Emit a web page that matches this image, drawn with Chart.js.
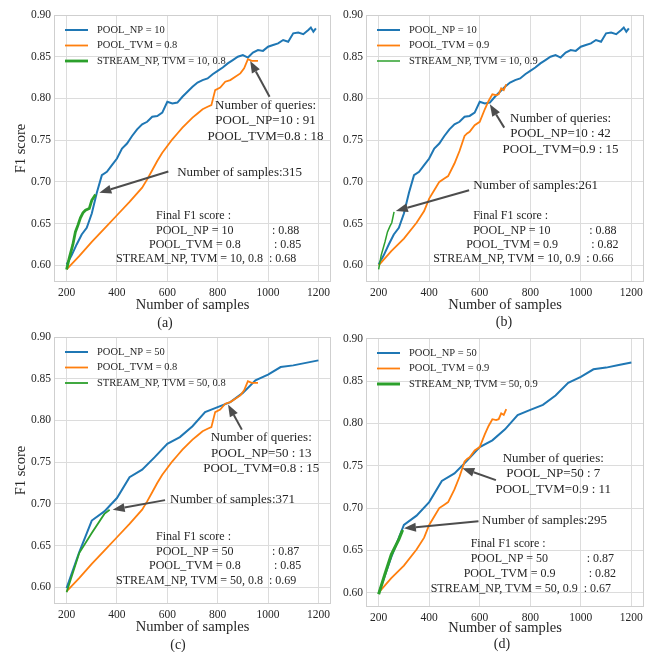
<!DOCTYPE html>
<html lang="en">
<head>
<meta charset="utf-8" />
<title>F1 score vs number of samples</title>
<script src="https://cdn.jsdelivr.net/npm/chart.js@4.4.1/dist/chart.umd.min.js"></script>
<style>
  body { margin: 0; background: #ffffff; }
  #wrap { position: relative; width: 654px; height: 652px; }
  #wrap canvas { position: absolute; left: 0; top: 0; }
</style>
</head>
<body>
<div id="wrap">
  <canvas id="chartA" width="654" height="652"></canvas>
  <canvas id="chartB" width="654" height="652"></canvas>
  <canvas id="chartC" width="654" height="652"></canvas>
  <canvas id="chartD" width="654" height="652"></canvas>
</div>
<script>
// tick labels
const xTicks = [200, 400, 600, 800, 1000, 1200];
const yTicks = [0.60, 0.65, 0.70, 0.75, 0.80, 0.85, 0.90];

// POOL_NP = 10 (panels a, b)
const poolNp10X = [200, 220, 240, 260, 280, 300, 320, 340, 360, 380, 400, 420, 440, 460, 480, 500, 520, 540, 560, 580,
  600, 620, 640, 660, 680, 700, 720, 740, 760, 780, 800, 820, 840, 860, 880, 900, 920, 940, 960, 980,
  1000, 1020, 1040, 1060, 1080, 1100, 1120, 1140, 1160, 1170, 1180, 1190];
const poolNp10Y = [0.601, 0.612, 0.625, 0.637, 0.645, 0.662, 0.687, 0.708, 0.712, 0.720, 0.728, 0.740, 0.746, 0.755, 0.763, 0.769, 0.772, 0.778, 0.779, 0.783,
  0.796, 0.794, 0.795, 0.802, 0.808, 0.814, 0.819, 0.822, 0.824, 0.829, 0.833, 0.837, 0.842, 0.846, 0.850, 0.852, 0.849, 0.855, 0.858, 0.857,
  0.862, 0.864, 0.866, 0.870, 0.868, 0.878, 0.879, 0.877, 0.882, 0.885, 0.880, 0.884];

// POOL_NP = 50 (panels c, d)
const poolNp50X = [200, 250, 300, 350, 400, 450, 500, 550, 600, 650, 700, 750, 800, 850, 900, 950, 1000, 1050, 1100, 1150, 1200];
const poolNp50Y = [0.599, 0.642, 0.680, 0.691, 0.707, 0.732, 0.741, 0.756, 0.772, 0.780, 0.793, 0.810, 0.816, 0.822, 0.833, 0.848, 0.855, 0.864, 0.866, 0.869, 0.872];

// POOL_TVM = 0.8 (panels a, c)
const poolTvm08X = [200, 250, 300, 350, 400, 450, 500, 520, 540, 560, 580, 600, 620, 640, 660, 680, 700, 720, 740, 760,
  775, 790, 810, 830, 850, 870, 890, 905, 920, 935, 960];
const poolTvm08Y = [0.595, 0.611, 0.628, 0.644, 0.660, 0.676, 0.693, 0.703, 0.714, 0.725, 0.735, 0.743, 0.751, 0.758, 0.765, 0.771, 0.777, 0.782, 0.787, 0.790,
  0.792, 0.810, 0.813, 0.820, 0.822, 0.826, 0.830, 0.836, 0.847, 0.845, 0.845];

// POOL_TVM = 0.9 (panels b, d)
const poolTvm09X = [200, 250, 300, 350, 380, 400, 420, 440, 460, 475, 500, 520, 540, 550, 560, 580, 600, 620, 635, 650, 665, 675, 685, 695, 705];
const poolTvm09Y = [0.600, 0.617, 0.632, 0.651, 0.665, 0.680, 0.690, 0.700, 0.704, 0.707, 0.722, 0.737, 0.755, 0.758, 0.760, 0.768, 0.772, 0.787, 0.797, 0.805, 0.804, 0.805, 0.812, 0.810, 0.817];

// STREAM_NP, TVM
const streamAX = [200, 210, 225, 235, 245, 255, 265, 275, 290, 300, 315];
const streamAY = [0.595, 0.608, 0.625, 0.640, 0.648, 0.657, 0.663, 0.666, 0.668, 0.678, 0.685];
const streamBX = [200, 210, 225, 235, 245, 252, 261];
const streamBY = [0.595, 0.612, 0.628, 0.640, 0.647, 0.651, 0.664];
const streamCX = [200, 250, 300, 350, 371];
const streamCY = [0.594, 0.641, 0.665, 0.688, 0.693];
const streamDX = [200, 225, 250, 260, 280, 295];
const streamDY = [0.598, 0.622, 0.645, 0.651, 0.663, 0.674];

const serif = "'Liberation Serif', 'Times New Roman', serif";
const ink = "#262626";
const gridColor = "#dcdcdc";
const blue = "#1f77b4", orange = "#ff7f0e", green = "#2ca02c";

function pts(xs, ys) {
  return xs.map((x, i) => ({ x: x, y: ys[i] }));
}

const panels = [
  {
    id: "chartA", caption: "(a)", captionPos: [165, 323],
    area: { left: 54, top: 15, right: 331, bottom: 282 }, yMin: 0.58, yMax: 0.90, yTitle: true, yAxisW: 42, xAxisH: 32,
    series: [
      { label: "POOL_NP = 10", x: poolNp10X, y: poolNp10Y, color: blue, width: 2 },
      { label: "POOL_TVM = 0.8", x: poolTvm08X, y: poolTvm08Y, color: orange, width: 1.8 },
      { label: "STREAM_NP, TVM = 10, 0.8", x: streamAX, y: streamAY, color: green, width: 2.8 }
    ],
    queries: { at: [990, 0.792], lines: ["Number of queries:", "POOL_NP=10 : 91", "POOL_TVM=0.8 : 18"], from: [1006, 0.802], to: [929, 0.845] },
    samples: { at: [639, 0.711], text: "Number of samples:315", from: [604, 0.7125], to: [330, 0.687] },
    final: { at: [555, 0.659], gap: 14.3, names: ["POOL_NP = 10", "POOL_TVM = 0.8", "STREAM_NP, TVM = 10, 0.8"], scores: [": 0.88", ": 0.85", ": 0.68"] }
  },
  {
    id: "chartB", caption: "(b)", captionPos: [504, 322],
    area: { left: 366, top: 15, right: 644, bottom: 282 }, yMin: 0.58, yMax: 0.90, yTitle: false, yAxisW: 30, xAxisH: 32,
    series: [
      { label: "POOL_NP = 10", x: poolNp10X, y: poolNp10Y, color: blue, width: 2 },
      { label: "POOL_TVM = 0.9", x: poolTvm09X, y: poolTvm09Y, color: orange, width: 1.8 },
      { label: "STREAM_NP, TVM = 10, 0.9", x: streamBX, y: streamBY, color: green, width: 1.5 }
    ],
    queries: { at: [920, 0.776], lines: ["Number of queries:", "POOL_NP=10 : 42", "POOL_TVM=0.9 : 15"], from: [697, 0.765], to: [640, 0.793] },
    samples: { at: [574, 0.695], text: "Number of samples:261", from: [558, 0.690], to: [268, 0.665] },
    final: { at: [574, 0.659], gap: 14.3, names: ["POOL_NP = 10", "POOL_TVM = 0.9", "STREAM_NP, TVM = 10, 0.9"], scores: [": 0.88", ": 0.82", ": 0.66"] }
  },
  {
    id: "chartC", caption: "(c)", captionPos: [178, 645],
    area: { left: 54, top: 337, right: 331, bottom: 604 }, yMin: 0.58, yMax: 0.90, yTitle: true, yAxisW: 42, xAxisH: 32,
    series: [
      { label: "POOL_NP = 50", x: poolNp50X, y: poolNp50Y, color: blue, width: 2 },
      { label: "POOL_TVM = 0.8", x: poolTvm08X, y: poolTvm08Y, color: orange, width: 1.8 },
      { label: "STREAM_NP, TVM = 50, 0.8", x: streamCX, y: streamCY, color: green, width: 1.8 }
    ],
    queries: { at: [973, 0.779], lines: ["Number of queries:", "POOL_NP=50 : 13", "POOL_TVM=0.8 : 15"], from: [896, 0.789], to: [841, 0.819] },
    samples: { at: [611, 0.7057], text: "Number of samples:371", from: [591, 0.7045], to: [383, 0.693] },
    final: { at: [555, 0.660], gap: 14.4, names: ["POOL_NP = 50", "POOL_TVM = 0.8", "STREAM_NP, TVM = 50, 0.8"], scores: [": 0.87", ": 0.85", ": 0.69"] }
  },
  {
    id: "chartD", caption: "(d)", captionPos: [502, 644],
    area: { left: 366, top: 338, right: 644, bottom: 607 }, yMin: 0.583, yMax: 0.901, yTitle: false, yAxisW: 30, xAxisH: 30,
    series: [
      { label: "POOL_NP = 50", x: poolNp50X, y: poolNp50Y, color: blue, width: 2 },
      { label: "POOL_TVM = 0.9", x: poolTvm09X, y: poolTvm09Y, color: orange, width: 1.8 },
      { label: "STREAM_NP, TVM = 50, 0.9", x: streamDX, y: streamDY, color: green, width: 3 }
    ],
    queries: { at: [891, 0.759], lines: ["Number of queries:", "POOL_NP=50 : 7", "POOL_TVM=0.9 : 11"], from: [664, 0.733], to: [531, 0.747] },
    samples: { at: [609, 0.685], text: "Number of samples:295", from: [595, 0.6845], to: [300, 0.676] },
    final: { at: [564, 0.658], gap: 15, names: ["POOL_NP = 50", "POOL_TVM = 0.9", "STREAM_NP, TVM = 50, 0.9"], scores: [": 0.87", ": 0.82", ": 0.67"] }
  }
];

function drawArrow(ctx, x1, y1, x2, y2) {
  const ang = Math.atan2(y2 - y1, x2 - x1);
  const hl = 12, hw = 4.5;
  const bx = x2 - hl * Math.cos(ang), by = y2 - hl * Math.sin(ang);
  ctx.strokeStyle = "#4d4d4d";
  ctx.fillStyle = "#4d4d4d";
  ctx.lineWidth = 2;
  ctx.beginPath();
  ctx.moveTo(x1, y1);
  ctx.lineTo(bx, by);
  ctx.stroke();
  ctx.beginPath();
  ctx.moveTo(x2, y2);
  ctx.lineTo(bx + hw * Math.sin(ang), by - hw * Math.cos(ang));
  ctx.lineTo(bx - hw * Math.sin(ang), by + hw * Math.cos(ang));
  ctx.closePath();
  ctx.fill();
}

// frame, legend, annotations and caption for one panel
function decor(p) {
  return {
    id: "decor",
    afterDatasetsDraw(chart) {
      const ctx = chart.ctx;
      const a = chart.chartArea;
      const xs = chart.scales.x, ys = chart.scales.y;
      const px = (v) => xs.getPixelForValue(v);
      const py = (v) => ys.getPixelForValue(v);
      ctx.save();

      ctx.strokeStyle = "#cfcfcf";
      ctx.lineWidth = 1;
      ctx.strokeRect(a.left + 0.5, a.top + 0.5, a.right - a.left - 1, a.bottom - a.top - 1);

      // legend
      ctx.font = "10.5px " + serif;
      ctx.textAlign = "left";
      ctx.textBaseline = "middle";
      chart.data.datasets.forEach((ds, i) => {
        const yy = a.top + 15 + i * 15.5;
        ctx.strokeStyle = ds.borderColor;
        ctx.lineWidth = ds.borderWidth;
        ctx.beginPath();
        ctx.moveTo(a.left + 11, yy);
        ctx.lineTo(a.left + 34, yy);
        ctx.stroke();
        ctx.fillStyle = ink;
        ctx.fillText(ds.label, a.left + 43, yy);
      });

      // number of queries
      ctx.font = "13px " + serif;
      ctx.textAlign = "center";
      ctx.fillStyle = ink;
      p.queries.lines.forEach((t, i) => {
        ctx.fillText(t, px(p.queries.at[0]), py(p.queries.at[1]) + i * 15.5);
      });
      drawArrow(ctx, px(p.queries.from[0]), py(p.queries.from[1]), px(p.queries.to[0]), py(p.queries.to[1]));

      // number of samples
      ctx.textAlign = "left";
      ctx.fillStyle = ink;
      ctx.fillText(p.samples.text, px(p.samples.at[0]), py(p.samples.at[1]));
      drawArrow(ctx, px(p.samples.from[0]), py(p.samples.from[1]), px(p.samples.to[0]), py(p.samples.to[1]));

      // final F1 score block
      const fx = px(p.final.at[0]), fy = py(p.final.at[1]);
      const nameDx = [0, -7, -40], scoreDx = [116, 118, 113];
      ctx.font = "12px " + serif;
      ctx.fillStyle = ink;
      ctx.fillText("Final F1 score :", fx, fy);
      p.final.names.forEach((n, i) => {
        const yy = fy + (i + 1) * p.final.gap;
        ctx.fillText(n, fx + nameDx[i], yy);
        ctx.fillText(p.final.scores[i], fx + scoreDx[i], yy);
      });

      // caption
      ctx.font = "14px " + serif;
      ctx.textAlign = "center";
      ctx.fillText(p.caption, p.captionPos[0], p.captionPos[1]);
      ctx.restore();
    }
  };
}

panels.forEach((p) => {
  const datasets = p.series.map((s, i) => ({
    label: s.label,
    data: pts(s.x, s.y),
    borderColor: s.color,
    backgroundColor: s.color,
    borderWidth: s.width,
    pointRadius: 0,
    tension: 0,
    fill: false,
    order: 2 - i
  }));

  new Chart(document.getElementById(p.id), {
    type: "line",
    data: { datasets: datasets },
    options: {
      responsive: false,
      animation: false,
      devicePixelRatio: 1,
      events: [],
      layout: {
        padding: {
          left: p.area.left - p.yAxisW,
          top: p.area.top,
          right: 654 - p.area.right,
          bottom: 652 - p.area.bottom - p.xAxisH
        }
      },
      plugins: { legend: { display: false }, tooltip: { enabled: false } },
      scales: {
        x: {
          type: "linear",
          min: 150,
          max: 1250,
          afterBuildTicks: (s) => { s.ticks = xTicks.map((v) => ({ value: v })); },
          afterFit: (s) => { s.height = p.xAxisH; },
          grid: { color: gridColor, lineWidth: 1, drawTicks: false },
          border: { display: false },
          ticks: { padding: 4, color: ink, font: { family: serif, size: 11.5 }, callback: (v) => String(v) },
          title: { display: true, text: "Number of samples", color: ink, padding: 0, font: { family: serif, size: 14.5 } }
        },
        y: {
          type: "linear",
          min: p.yMin,
          max: p.yMax,
          afterBuildTicks: (s) => { s.ticks = yTicks.map((v) => ({ value: v })); },
          afterFit: (s) => { s.width = p.yAxisW; },
          grid: { color: gridColor, lineWidth: 1, drawTicks: false },
          border: { display: false },
          ticks: { padding: 3, color: ink, font: { family: serif, size: 11.5 }, callback: (v) => Number(v).toFixed(2) },
          title: { display: p.yTitle, text: "F1 score", color: ink, padding: 0, font: { family: serif, size: 14.5 } }
        }
      }
    },
    plugins: [decor(p)]
  });
});
</script>
</body>
</html>
